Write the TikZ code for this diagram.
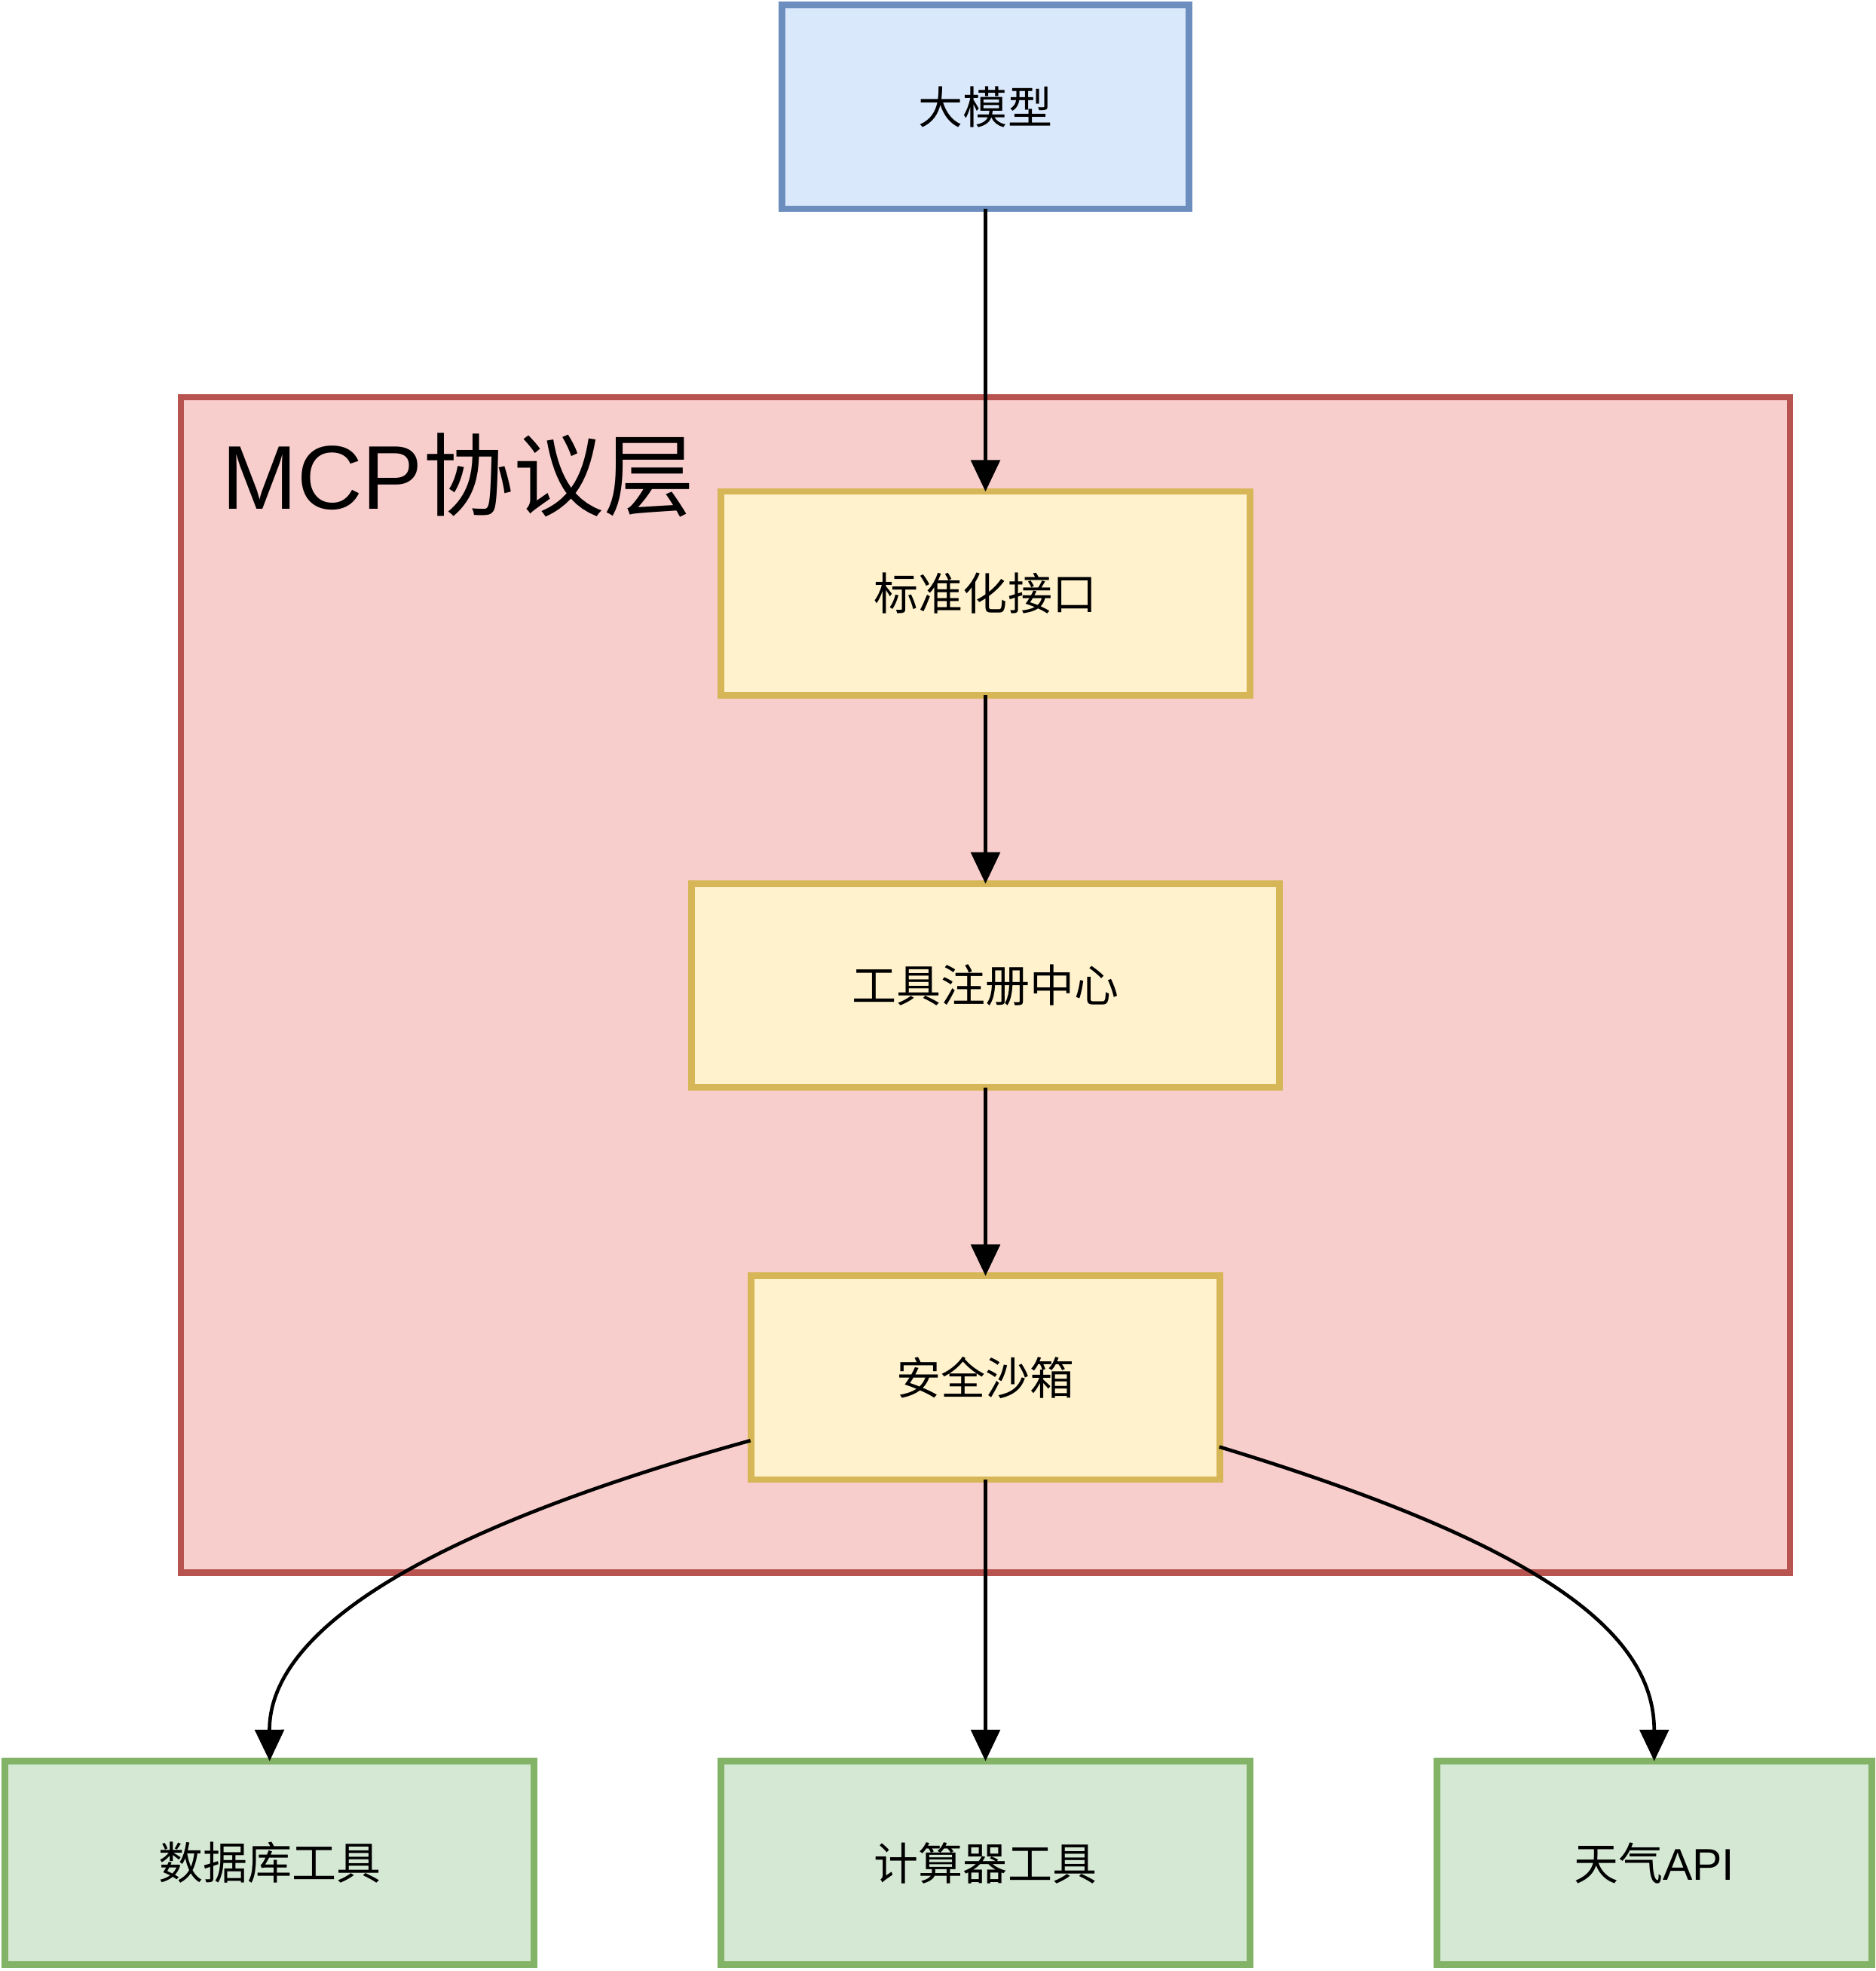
\documentclass[tikz,border=0pt]{standalone}
\usepackage{fontspec}
\setmainfont{Liberation Sans}
\newfontfamily\cjk{Noto Sans CJK SC}
\usetikzlibrary{arrows.meta}
\definecolor{bluefill}{HTML}{DAE8FC}
\definecolor{bluedraw}{HTML}{6C8EBF}
\definecolor{yelfill}{HTML}{FFF2CC}
\definecolor{yeldraw}{HTML}{D6B656}
\definecolor{redfill}{HTML}{F8CECC}
\definecolor{reddraw}{HTML}{B85450}
\definecolor{grnfill}{HTML}{D5E8D4}
\definecolor{grndraw}{HTML}{82B366}
\tikzset{
  box/.style={rectangle, line width=2.6pt, minimum height=81pt, inner sep=0pt, outer sep=0pt,
    font=\fontsize{17.7pt}{21pt}\selectfont},
  topbox/.style={box, draw=bluedraw, fill=bluefill},
  layerbox/.style={box, draw=yeldraw, fill=yelfill},
  toolbox/.style={box, draw=grndraw, fill=grnfill},
  container/.style={rectangle, draw=reddraw, fill=redfill, line width=2.6pt, inner sep=0pt},
  conn/.style={line width=1.4pt, -{Triangle[length=12.5pt,width=11.5pt]}},
}
\begin{document}
\begin{tikzpicture}[x=0.5pt,y=-0.5pt]
\useasboundingbox (0,0) rectangle (1492,1568);
\node[container, minimum width=640pt, minimum height=467.5pt] (layer) at (784,783.5) {};
\node[anchor=west, inner sep=0pt, font=\fontsize{36pt}{40pt}\selectfont] (title) at (176,378) {MCP{\cjk 协议层}};
\node[topbox, minimum width=162pt] (llm) at (784,85) {\cjk 大模型};
\node[layerbox, minimum width=210.5pt] (std) at (784,472) {\cjk 标准化接口};
\node[layerbox, minimum width=234pt] (reg) at (784,784) {\cjk 工具注册中心};
\node[layerbox, minimum width=186.5pt] (sand) at (784,1096) {\cjk 安全沙箱};
\node[toolbox, minimum width=210.5pt] (db) at (214.5,1482) {\cjk 数据库工具};
\node[toolbox, minimum width=210.5pt] (calc) at (784,1482) {\cjk 计算器工具};
\node[toolbox, minimum width=173pt] (api) at (1316,1482) {{\cjk 天气}API};
\draw[conn] (llm) -- (std);
\draw[conn] (std) -- (reg);
\draw[conn] (reg) -- (sand);
\draw[conn] (sand) -- (calc);
\coordinate (sl) at (597,1146);
\coordinate (sr) at (970,1151);
\draw[conn] (sl) .. controls (330,1220) and (214,1300) .. (db.north);
\draw[conn] (sr) .. controls (1230,1230) and (1316,1300) .. (api.north);
\end{tikzpicture}
\end{document}
